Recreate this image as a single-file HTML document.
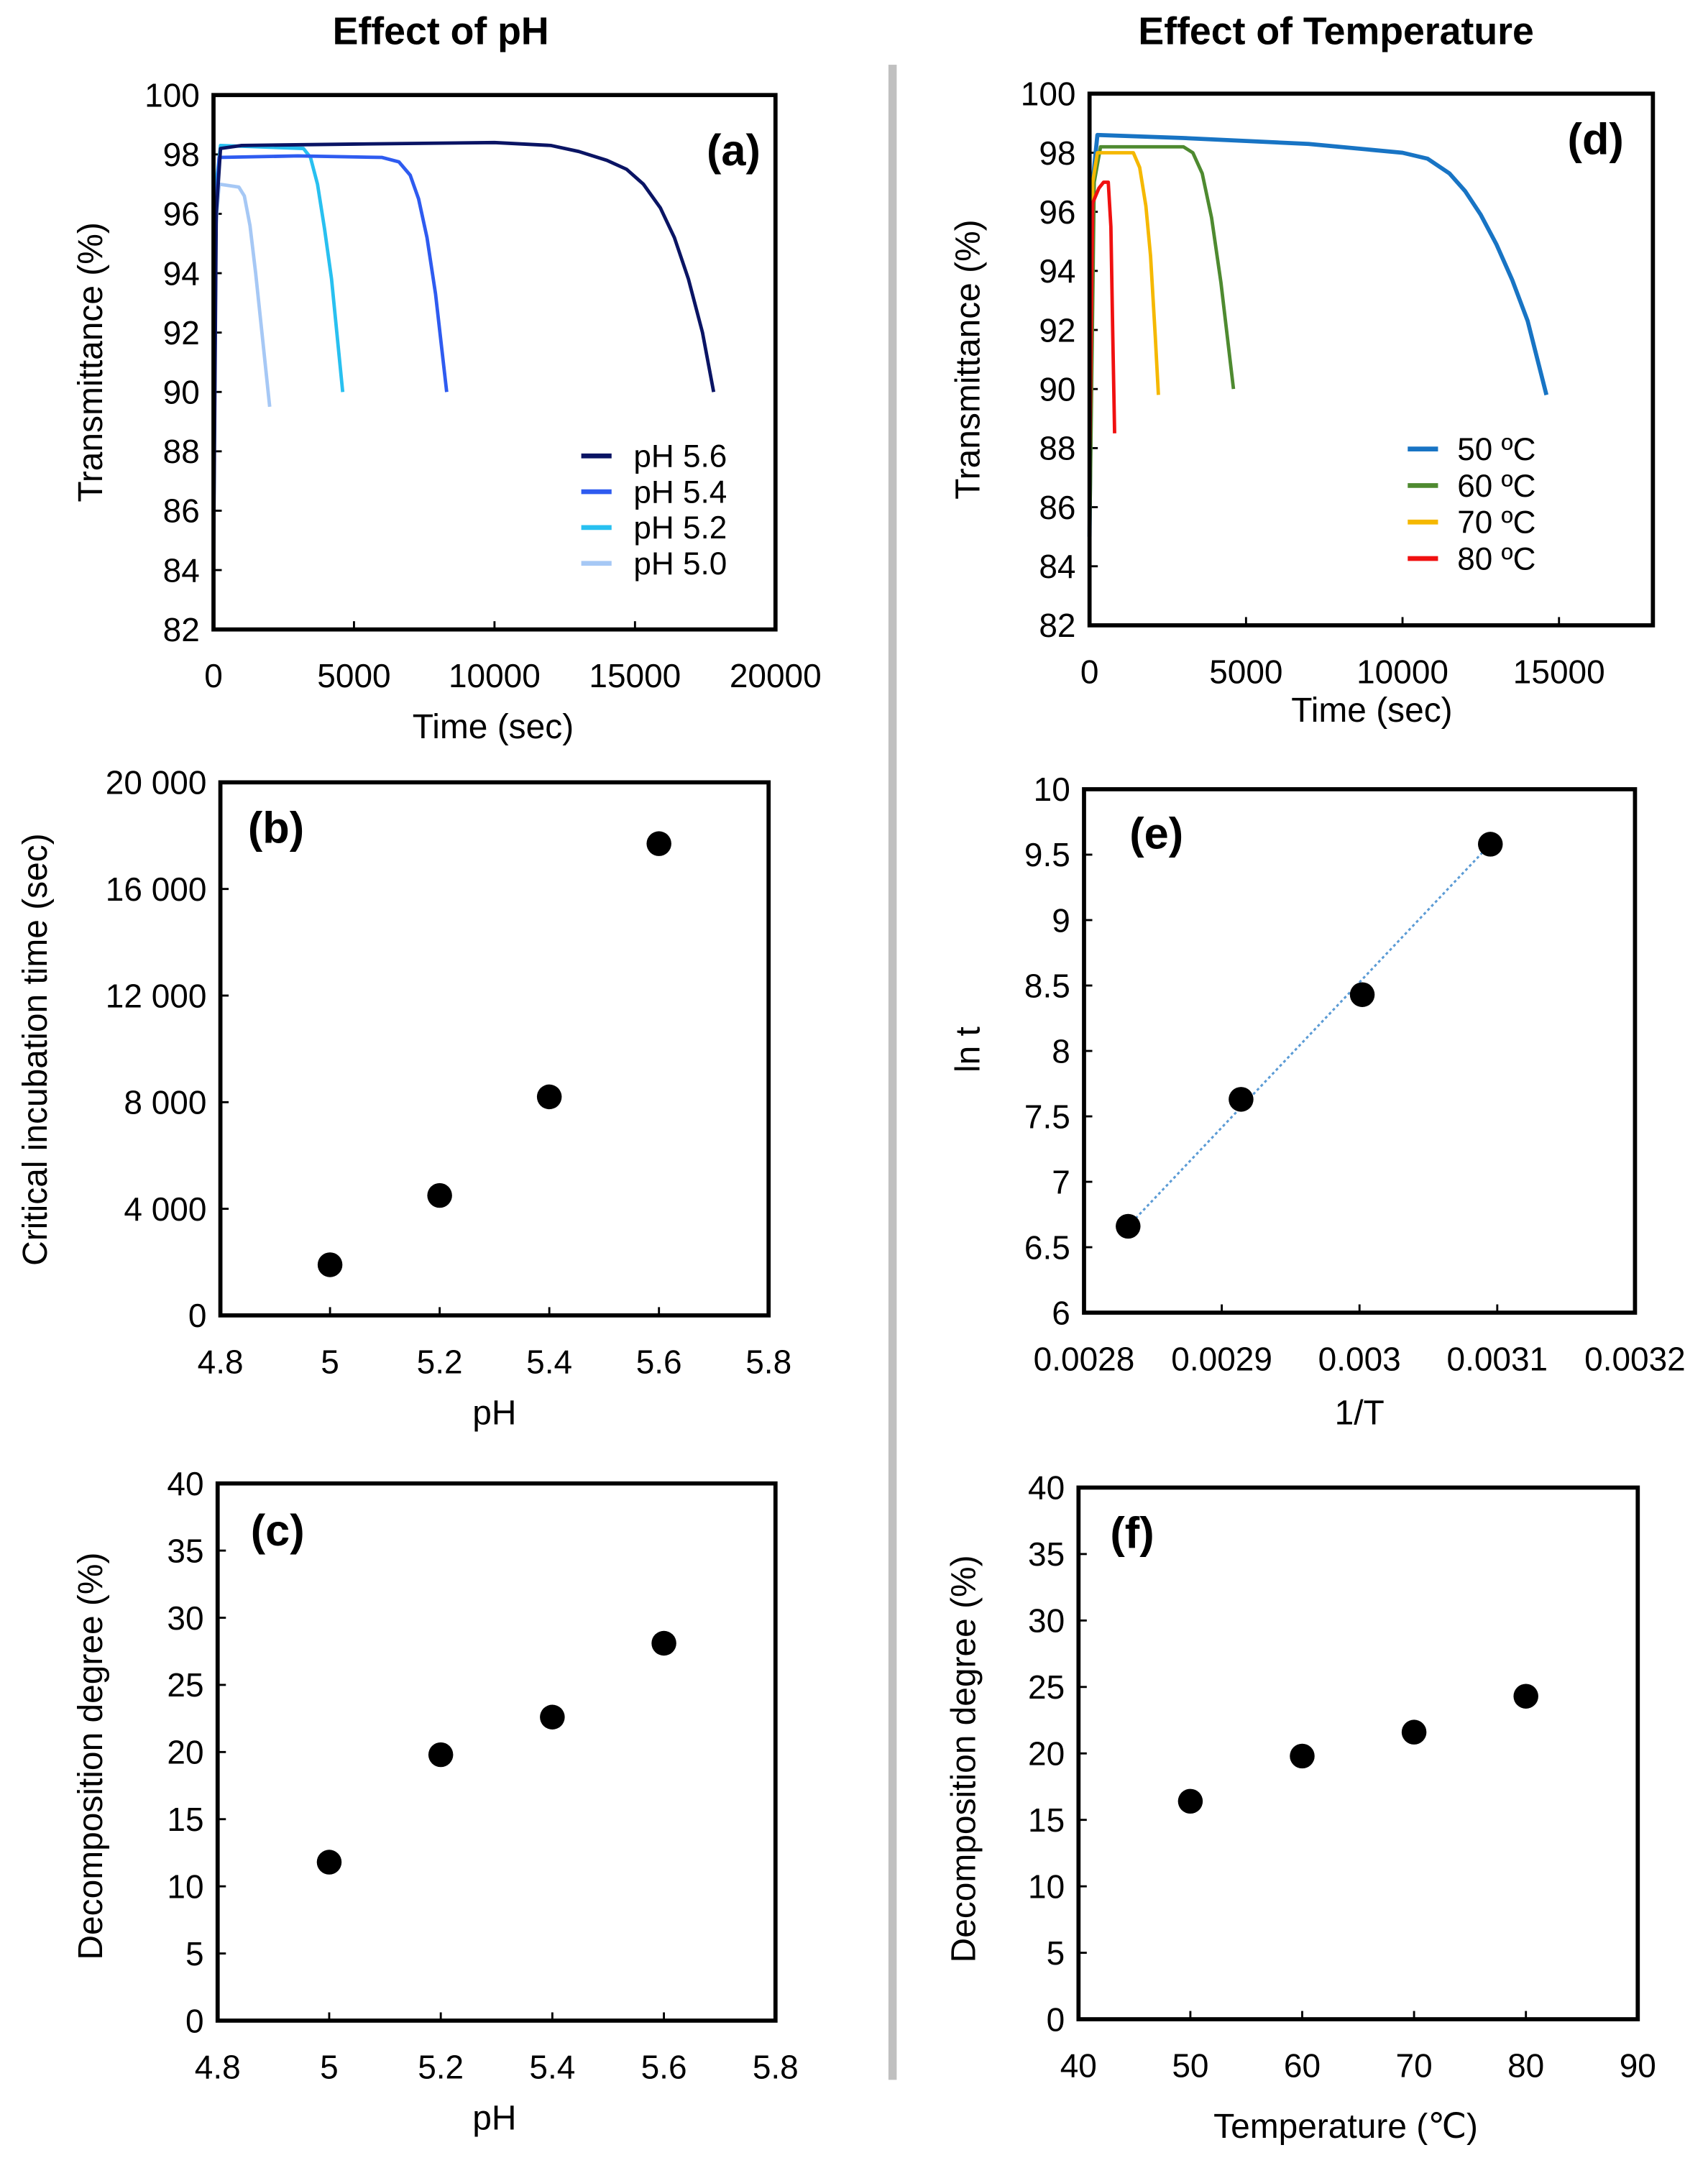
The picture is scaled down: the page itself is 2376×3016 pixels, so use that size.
<!DOCTYPE html>
<html><head><meta charset="utf-8"><style>
html,body{margin:0;padding:0;background:#fff;}
svg{display:block;font-family:"Liberation Sans",Arial,sans-serif;}
</style></head><body>
<svg id="fig" width="2376" height="3016" viewBox="0 0 1240 1574" preserveAspectRatio="none" xmlns="http://www.w3.org/2000/svg">
<rect width="1240" height="1574" fill="#fff"/>
<text x="320" y="32" text-anchor="middle" font-size="28" font-weight="bold">Effect of pH</text>
<text x="970" y="32" text-anchor="middle" font-size="28" font-weight="bold">Effect of Temperature</text>
<rect x="645" y="47" width="6" height="1463" fill="#c0c0c0"/>
<g id="plots"></g>
</svg>
<script>
// ---- data ----
const phLabels = ["pH 5.6","pH 5.4","pH 5.2","pH 5.0"];
const phColors = ["#0a1464","#2e5bf0","#28c0f0","#a6c8f5"];
const phT56 = [0,100,250,1000,5000,10000,12000,13000,14000,14700,15300,15900,16400,16900,17400,17800];
const phY56 = [84,96,98.2,98.3,98.35,98.4,98.3,98.1,97.8,97.5,97.0,96.2,95.2,93.8,92.0,90];
const phT54 = [0,80,200,3000,6000,6600,7000,7300,7600,7900,8300];
const phY54 = [85,96,97.9,97.95,97.9,97.75,97.3,96.5,95.2,93.3,90];
const phT52 = [0,100,250,3200,3450,3700,3950,4200,4600];
const phY52 = [84.5,97,98.3,98.2,97.9,97.0,95.5,93.8,90];
const phT50 = [0,80,200,900,1100,1300,1500,1700,2000];
const phY50 = [86,95.5,97.0,96.9,96.6,95.6,94,92.2,89.5];

const tLabels = ["50 \u00BAC","60 \u00BAC","70 \u00BAC","80 \u00BAC"];
const tColors = ["#1874c4","#4e8a30","#f5b800","#f01010"];
const tT50 = [0,100,250,3000,7000,10000,10800,11500,12000,12500,13000,13500,14000,14600];
const tY50 = [85,97,98.6,98.5,98.3,98.0,97.8,97.3,96.7,95.9,94.9,93.7,92.3,89.8];
const tT60 = [0,150,350,3000,3300,3600,3900,4200,4600];
const tY60 = [84.5,97,98.2,98.2,98.0,97.3,95.8,93.6,90];
const tT70 = [0,100,250,1400,1600,1800,1950,2100,2200];
const tY70 = [87,97,98.0,98.0,97.5,96.2,94.5,91.8,89.8];
const tT80 = [0,100,300,450,600,680,740,800];
const tY80 = [87,96.3,96.8,97.0,97.0,95.5,92,88.5];

const bPH = [5,5.2,5.4,5.6];
const bTime = [1900,4500,8200,17700];
const cPH = [5,5.2,5.4,5.6];
const cDeg = [11.8,19.8,22.6,28.1];
const eInvT = [0.002832,0.002914,0.003002,0.003095];
const eLnT = [6.66,7.63,8.43,9.58];
const fTemp = [50,60,70,80];
const fDeg = [16.4,19.8,21.6,24.3];

const yTicksTrans = ["82","84","86","88","90","92","94","96","98","100"];
const xTicksA = ["0","5000","10000","15000","20000"];
const xTicksD = ["0","5000","10000","15000"];
const yTicksB = ["0","4 000","8 000","12 000","16 000","20 000"];
const xTicksPH = ["4.8","5","5.2","5.4","5.6","5.8"];
const yTicksE = ["6","6.5","7","7.5","8","8.5","9","9.5","10"];
const xTicksE = ["0.0028","0.0029","0.003","0.0031","0.0032"];
const yTicksDeg = ["0","5","10","15","20","25","30","35","40"];
const xTicksF = ["40","50","60","70","80","90"];

// ---- helpers ----
const NS="http://www.w3.org/2000/svg";
const root=document.getElementById("plots");
function mk(tag,attrs,parent){const e=document.createElementNS(NS,tag);for(const k in attrs)e.setAttribute(k,attrs[k]);(parent||root).appendChild(e);return e;}
function txt(s,attrs,parent){const e=mk("text",attrs,parent);e.textContent=s;return e;}

function panel(p){
  const g=mk("g",{});
  
  
  const sx=v=>p.x0+(v-p.xmin)/(p.xmax-p.xmin)*(p.x1-p.x0);
  const sy=v=>p.y1-(v-p.ymin)/(p.ymax-p.ymin)*(p.y1-p.y0);
  p.yt.forEach((l,i)=>{
    const v=p.ymin+i*p.ystep, y=sy(v);
    const t=txt(l,{x:p.x0-10,y:y+8.5,"text-anchor":"end","font-size":24},g);
    
    
    if(i>0&&i<p.yt.length-1){const tk=mk("line",{x1:p.x0,x2:p.x0+6,y1:y,y2:y,stroke:"#000","stroke-width":1.5},g);
    
    }
  });
  p.xt.forEach((l,i)=>{
    const v=p.xmin+i*p.xstep, x=sx(v);
    const t=txt(l,{x:x,y:p.y1+42,"text-anchor":"middle","font-size":24},g);
    
    
    if(i>0&&v<p.xmax){const tk=mk("line",{x1:x,x2:x,y1:p.y1,y2:p.y1-6,stroke:"#000","stroke-width":1.5},g);
    
    }
  });
  const xl=txt(p.xlabel,{x:p.xlx,y:p.xly,"text-anchor":"middle","font-size":25},g);
  
  
  const yl=txt(p.ylabel,{x:0,y:0,"text-anchor":"middle","font-size":25,transform:`translate(${p.ylx},${p.yly}) rotate(-90)`},g);
  
  
  return {g,sx,sy};
}
function frame(p,g){
  const r=mk("rect",{x:p.x0,y:p.y0,width:p.x1-p.x0,height:p.y1-p.y0,fill:"none",stroke:"#000","stroke-width":3},g);
  
  
  const t=txt(p.tag,{x:p.tx,y:p.ty,"font-size":32,"font-weight":"bold"},g);
  
  
}
function line(g,sx,sy,xs,ys,color,name,w){
  const d=xs.map((x,i)=>(i?"L":"M")+sx(x).toFixed(1)+" "+sy(ys[i]).toFixed(1)).join(" ");
  const pth=mk("path",{d:d,fill:"none",stroke:color,"stroke-width":w||2.5,"stroke-linejoin":"round"},g);
  
  
}
function dots(g,sx,sy,xs,ys,name){
  xs.forEach((x,i)=>{
    const c=mk("circle",{cx:sx(x),cy:sy(ys[i]),r:9,fill:"#000"},g);
    
    
  });
}
function legend(g,labels,colors,lx,ly,dy,tx){
  labels.forEach((l,i)=>{
    const y=ly+i*dy;
    const ln=mk("line",{x1:lx,x2:lx+22,y1:y,y2:y,stroke:colors[i],"stroke-width":3.5},g);
    
    
    const t=txt(l,{x:tx,y:y+8,"font-size":23},g);
    
    
  });
}

// (a)
let P={name:"panel-a",x0:155,x1:563,y0:69,y1:457,xmin:0,xmax:20000,xstep:5000,ymin:82,ymax:100,ystep:2,yt:yTicksTrans,xt:xTicksA,xlabel:"Time (sec)",xlx:358,xly:536,ylabel:"Transmittance (%)",ylx:74,yly:263,tag:"(a)",tx:513,ty:120};
let R=panel(P);
line(R.g,R.sx,R.sy,phT50,phY50,phColors[3],"line-ph-5-0");
line(R.g,R.sx,R.sy,phT52,phY52,phColors[2],"line-ph-5-2");
line(R.g,R.sx,R.sy,phT54,phY54,phColors[1],"line-ph-5-4");
line(R.g,R.sx,R.sy,phT56,phY56,phColors[0],"line-ph-5-6");
legend(R.g,phLabels,phColors,422,331,26,460);
frame(P,R.g);

// (d)
P={name:"panel-d",x0:791,x1:1200,y0:68,y1:454,xmin:0,xmax:18000,xstep:5000,ymin:82,ymax:100,ystep:2,yt:yTicksTrans,xt:xTicksD,xlabel:"Time (sec)",xlx:996,xly:524,ylabel:"Transmittance (%)",ylx:711,yly:261,tag:"(d)",tx:1138,ty:112};
R=panel(P);
line(R.g,R.sx,R.sy,tT50,tY50,tColors[0],"line-50c",3);
line(R.g,R.sx,R.sy,tT60,tY60,tColors[1],"line-60c");
line(R.g,R.sx,R.sy,tT70,tY70,tColors[2],"line-70c");
line(R.g,R.sx,R.sy,tT80,tY80,tColors[3],"line-80c");
legend(R.g,tLabels,tColors,1022,326,26.5,1058);
frame(P,R.g);

// (b)
P={name:"panel-b",x0:160,x1:558,y0:568,y1:955,xmin:4.8,xmax:5.8,xstep:0.2,ymin:0,ymax:20000,ystep:4000,yt:yTicksB,xt:xTicksPH,xlabel:"pH",xlx:359,xly:1034,ylabel:"Critical incubation time (sec)",ylx:34,yly:762,tag:"(b)",tx:180,ty:612};
R=panel(P);
dots(R.g,R.sx,R.sy,bPH,bTime,"point-b");
frame(P,R.g);

// (e)
P={name:"panel-e",x0:787,x1:1187,y0:573,y1:953,xmin:0.0028,xmax:0.0032,xstep:0.0001,ymin:6,ymax:10,ystep:0.5,yt:yTicksE,xt:xTicksE,xlabel:"1/T",xlx:987,xly:1034,ylabel:"ln t",ylx:711,yly:762,tag:"(e)",tx:820,ty:616};
R=panel(P);
const tl=mk("line",{x1:R.sx(eInvT[0]),y1:R.sy(eLnT[0]),x2:R.sx(eInvT[3]),y2:R.sy(eLnT[3]),stroke:"#5b9bd5","stroke-width":1.6,"stroke-dasharray":"2 2"},R.g);


dots(R.g,R.sx,R.sy,eInvT,eLnT,"point-e");
frame(P,R.g);

// (c)
P={name:"panel-c",x0:158,x1:563,y0:1077,y1:1467,xmin:4.8,xmax:5.8,xstep:0.2,ymin:0,ymax:40,ystep:5,yt:yTicksDeg,xt:xTicksPH,xlabel:"pH",xlx:359,xly:1546,ylabel:"Decomposition degree (%)",ylx:74,yly:1275,tag:"(c)",tx:182,ty:1122};
R=panel(P);
dots(R.g,R.sx,R.sy,cPH,cDeg,"point-c");
frame(P,R.g);

// (f)
P={name:"panel-f",x0:783,x1:1189,y0:1080,y1:1466,xmin:40,xmax:90,xstep:10,ymin:0,ymax:40,ystep:5,yt:yTicksDeg,xt:xTicksF,xlabel:"Temperature (\u2103)",xlx:977,xly:1552,ylabel:"Decomposition degree (%)",ylx:708,yly:1277,tag:"(f)",tx:806,ty:1124};
R=panel(P);
dots(R.g,R.sx,R.sy,fTemp,fDeg,"point-f");
frame(P,R.g);
</script>
</body></html>
